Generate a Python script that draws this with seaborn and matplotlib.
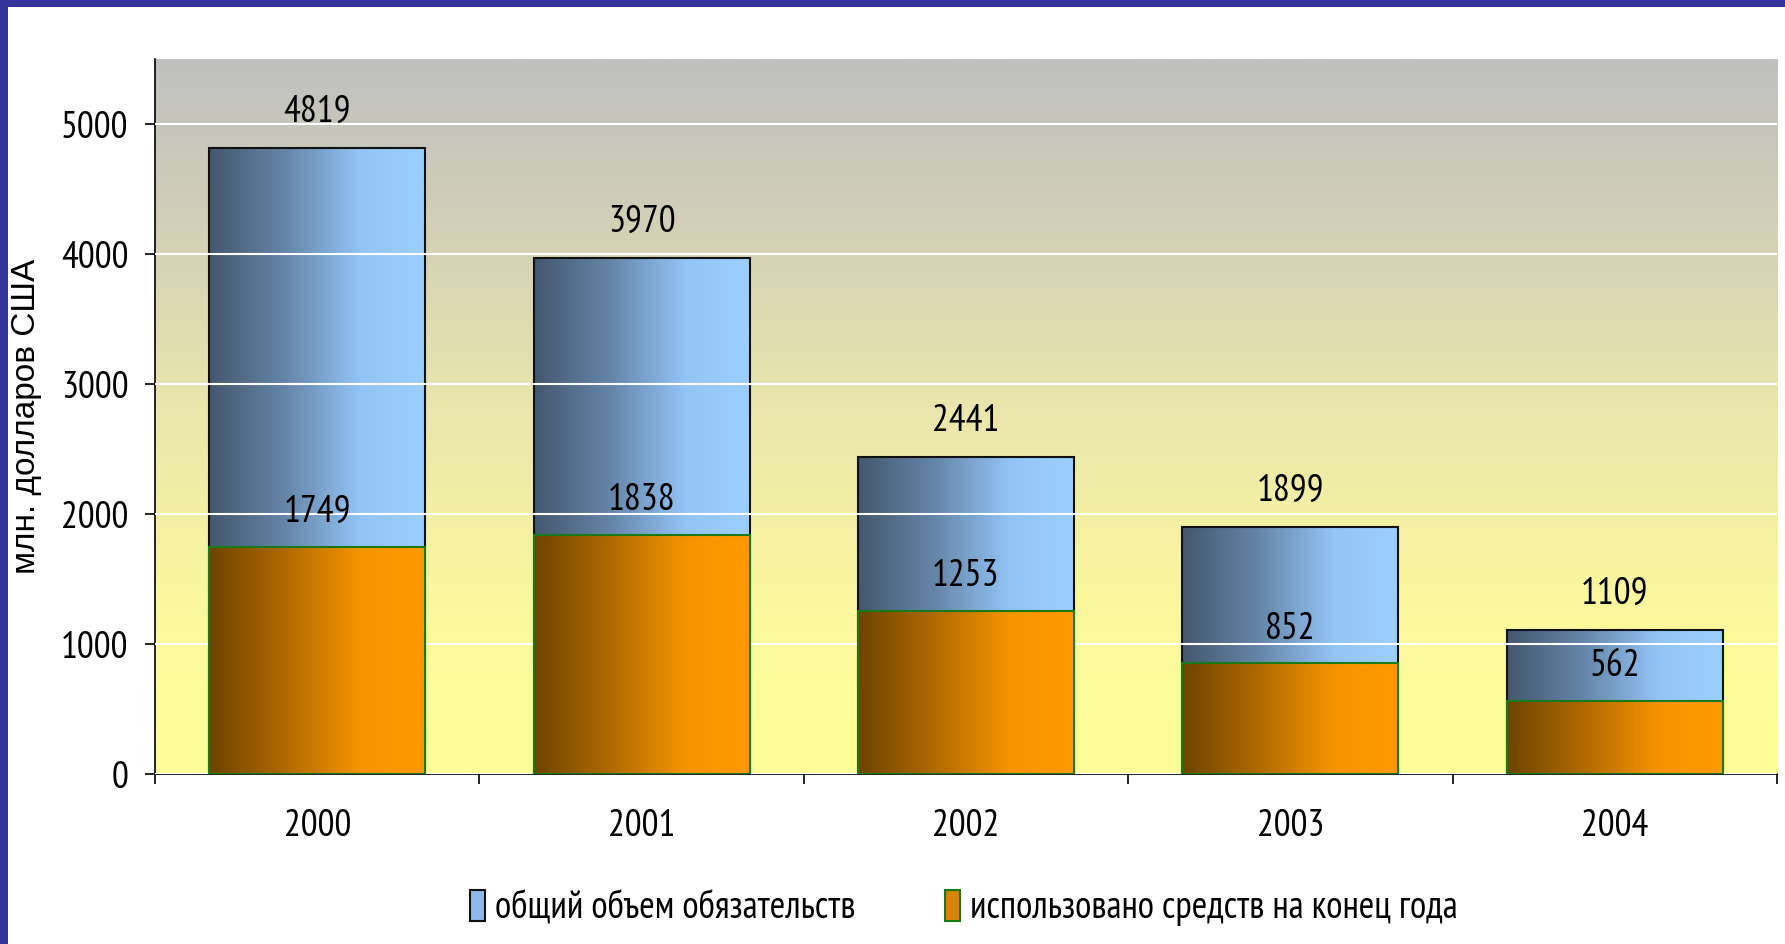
import numpy as np
import pandas as pd
import matplotlib
matplotlib.use("Agg")
import matplotlib.pyplot as plt
import seaborn as sns
from matplotlib.colors import LinearSegmentedColormap
from matplotlib.patches import Patch, Rectangle

# данные
years = ["2000", "2001", "2002", "2003", "2004"]
total_commitments = [4819, 3970, 2441, 1899, 1109]
used_funds = [1749, 1838, 1253, 852, 562]
label_total = "общий объем обязательств"
label_used = "использовано средств на конец года"
y_label = "млн. долларов США"

sns.set_theme(style="white")
plt.rcParams['font.family'] = ['PT Sans Narrow', 'DejaVu Sans']
plt.rcParams['text.color'] = 'black'
plt.rcParams['xtick.color'] = 'black'
plt.rcParams['ytick.color'] = 'black'
plt.rcParams['axes.labelcolor'] = 'black'

FS = 27

df = pd.DataFrame({"year": years, "total": total_commitments, "used": used_funds})

fig = plt.figure(figsize=(17.85, 9.44), dpi=100, facecolor="white")
ax = fig.add_axes([155 / 1785, 1 - 774 / 944, 1622 / 1785, 715 / 944])

# фон области построения: градиент серый -> жёлтый
bg_cmap = LinearSegmentedColormap.from_list(
    "bg", [(0.0, "#ffff99"), (0.2, "#fcfa9c"), (0.5, "#ebe7ac"),
           (0.8, "#cfcdb8"), (1.0, "#c0c0c0")])
grad_v = np.linspace(0, 1, 256).reshape(-1, 1)
ax.imshow(grad_v, cmap=bg_cmap, origin="lower", aspect="auto",
          extent=(-0.5, 4.5, 0, 5500), zorder=0)

sns.barplot(data=df, x="year", y="total", color="#8db8e8", width=0.666,
            ax=ax, zorder=2)
sns.barplot(data=df, x="year", y="used", color="#d88400", width=0.666,
            ax=ax, zorder=3)

blue_cmap = LinearSegmentedColormap.from_list(
    "blue", [(0.0, "#44586e"), (0.35, "#6585a8"), (0.7, "#94c4f5"), (1.0, "#9ccfff")])
orange_cmap = LinearSegmentedColormap.from_list(
    "orange", [(0.0, "#6e4400"), (0.35, "#b06a00"), (0.7, "#f59400"), (1.0, "#ff9900")])
grad_h = np.linspace(0, 1, 256).reshape(1, -1)

n = len(years)
for i, p in enumerate(ax.patches):
    x0, y0 = p.get_x(), p.get_y()
    w, h = p.get_width(), p.get_height()
    is_used = i >= n
    cmap = orange_cmap if is_used else blue_cmap
    base_z = 3 if is_used else 2
    img = ax.imshow(grad_h, cmap=cmap, aspect="auto",
                    extent=(x0, x0 + w, y0, y0 + h), zorder=base_z + 0.1)
    img.set_clip_path(p)
    p.set_facecolor("none")
    p.set_edgecolor("#1a7a1a" if is_used else "#111111")
    p.set_linewidth(1.5)
    p.set_zorder(base_z + 0.2)

# подписи значений
for i in range(n):
    ax.annotate(str(total_commitments[i]), (i, total_commitments[i]),
                xytext=(0, 13), textcoords="offset points",
                ha="center", va="bottom", fontsize=FS, zorder=6)
    ax.annotate(str(used_funds[i]), (i, used_funds[i]),
                xytext=(0, 12), textcoords="offset points",
                ha="center", va="bottom", fontsize=FS, zorder=6)

ax.set_xlim(-0.5, 4.5)
ax.set_ylim(0, 5500)
ax.set_yticks(range(0, 5001, 1000))
ax.yaxis.grid(True, color="white", linewidth=1.5)
ax.set_axisbelow(False)
for gl in ax.get_ygridlines():
    gl.set_zorder(1)

ax.set_xticks(np.arange(-0.5, 5, 1), minor=True)
ax.tick_params(axis="x", which="major", length=0, pad=25, labelsize=FS)
ax.tick_params(axis="x", which="minor", length=7, width=1.2, color="black",
               direction="out", bottom=True)
ax.tick_params(axis="y", length=7, width=1.2, color="black", direction="out",
               left=True, pad=12, labelsize=FS)

for side in ["top", "right"]:
    ax.spines[side].set_visible(False)
for side in ["left", "bottom"]:
    ax.spines[side].set_color("black")
    ax.spines[side].set_linewidth(1.2)

ax.set_xlabel("")
ax.set_ylabel(y_label, fontsize=24, family=["Liberation Sans", "DejaVu Sans"])
ax.yaxis.set_label_coords(-0.0697, 0.5)

handles = [Patch(facecolor="#8db8e8", edgecolor="#111111", linewidth=1.5, label=label_total),
           Patch(facecolor="#d88400", edgecolor="#1a7a1a", linewidth=1.5, label=label_used)]
fig.legend(handles=handles, loc="center", bbox_to_anchor=(0.54, 0.038), ncol=2,
           frameon=False, fontsize=FS, handlelength=0.4, handleheight=0.9,
           handletextpad=0.25, columnspacing=2.4)

# синяя рамка слайда
fig.patches.append(Rectangle((0, 0), 8 / 1785, 1, transform=fig.transFigure,
                             facecolor="#333399", edgecolor="none", zorder=10))
fig.patches.append(Rectangle((0, 1 - 7 / 944), 1, 7 / 944, transform=fig.transFigure,
                             facecolor="#333399", edgecolor="none", zorder=10))

fig.savefig("out.png", dpi=100, facecolor="white")
